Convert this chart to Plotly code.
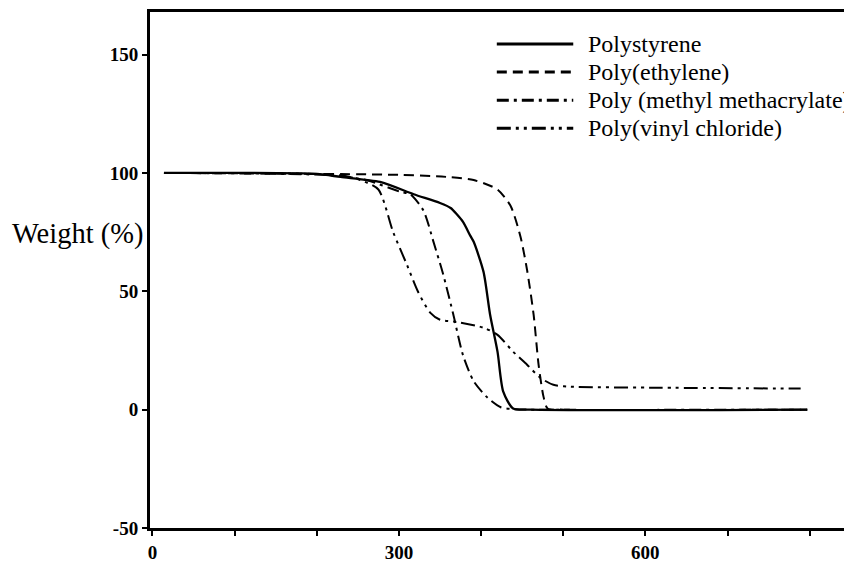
import plotly.graph_objects as go

# ---- data ----
names = ["Polystyrene", "Poly(ethylene)", "Poly (methyl methacrylate)", "Poly(vinyl chloride)"]

ps_temp = [14, 200, 229, 277, 318, 350, 363, 371, 378, 387, 391, 403, 411, 420, 427, 439, 460, 797]
ps_wt = [100, 99.6, 98.3, 96.2, 91, 87.3, 85.2, 82.3, 79.3, 73.4, 70.9, 58.2, 40.1, 24.5, 7.6, 0.5, 0, 0]

pe_temp = [14, 300, 359, 391, 420, 436, 448, 456, 464, 470, 476, 481, 500, 797]
pe_wt = [100, 99.2, 98.3, 97, 93, 86, 73, 59, 40, 19, 5.5, 0.5, 0, 0]

pmma_temp = [14, 217, 260, 302, 314, 330, 342, 354, 366, 378, 391, 408, 424, 436, 460, 797]
pmma_wt = [100, 99, 97, 92, 91, 84, 71, 57, 40.5, 23, 12, 5, 1, 0.3, 0, 0]

pvc_temp = [14, 229, 253, 275, 293, 310, 323, 338, 350, 371, 403, 420, 439, 456, 472, 488, 509, 606, 789]
pvc_wt = [100, 99, 97, 93, 75, 61, 50, 41, 38, 37, 34.6, 31.6, 24.5, 19, 13.5, 10.5, 9.7, 9.3, 8.9]

x_tickvals = [0, 100, 200, 300, 400, 500, 600, 700, 800]
x_ticktext = ["0", "", "", "300", "", "", "600", "", ""]
y_tickvals = [-50, 0, 50, 100, 150]
y_ticktext = ["-50", "0", "50", "100", "150"]

temps = [ps_temp, pe_temp, pmma_temp, pvc_temp]
wts = [ps_wt, pe_wt, pmma_wt, pvc_wt]
dashes = ["solid", "10px,6px", "12px,5px,3px,5px", "14px,5px,3px,5px,3px,5px"]
widths = [2.3, 2, 2, 2]

serif = "Liberation Serif, Times New Roman, serif"

fig = go.Figure()
for nm, t, w, d, lw in zip(names, temps, wts, dashes, widths):
    fig.add_trace(go.Scatter(
        x=t, y=w, name=nm, mode="lines",
        line=dict(color="black", width=lw, dash=d, shape="spline", smoothing=0.7),
        showlegend=False,
    ))

# manual legend (long line samples like the reference)
leg_x0, leg_x1, leg_tx = 0.499, 0.609, 0.627
leg_y0, leg_dy = 0.938, 0.0545
for i, (nm, d) in enumerate(zip(names, dashes)):
    yy = leg_y0 - i * leg_dy
    fig.add_shape(type="line", xref="paper", yref="paper",
                  x0=leg_x0, x1=leg_x1, y0=yy, y1=yy,
                  line=dict(color="black", width=3, dash=d))
    fig.add_annotation(xref="paper", yref="paper", x=leg_tx, y=yy,
                       text=nm, showarrow=False, xanchor="left", yanchor="middle",
                       font=dict(family=serif, size=24, color="black"))

fig.add_annotation(xref="paper", yref="paper", x=-0.007, y=0.57,
                   text="Weight (%)", showarrow=False, xanchor="right", yanchor="middle",
                   font=dict(family=serif, size=28.5, color="black"))

fig.update_xaxes(
    range=[-3, 843], tickvals=x_tickvals, ticktext=x_ticktext,
    ticks="outside", ticklen=5, tickwidth=2, tickcolor="black",
    showline=True, linewidth=3, linecolor="black", mirror=True,
    showgrid=False, zeroline=False, automargin=False,
    tickfont=dict(family=serif, size=19, color="black", weight="bold"),
)
fig.update_yaxes(
    range=[-50, 168], tickvals=y_tickvals, ticktext=y_ticktext,
    ticks="outside", ticklen=5, tickwidth=2, tickcolor="black",
    showline=True, linewidth=3, linecolor="black", mirror=True,
    showgrid=False, zeroline=False, automargin=False,
    tickfont=dict(family=serif, size=19, color="black", weight="bold"),
)

# the page body adds an 8px offset, so the figure is sized to fit the window
fig.update_layout(
    width=844, height=557,
    margin=dict(l=142, r=7, t=4, b=37),
    paper_bgcolor="white", plot_bgcolor="white",
    showlegend=False,
)

fig.write_html("out.html")
